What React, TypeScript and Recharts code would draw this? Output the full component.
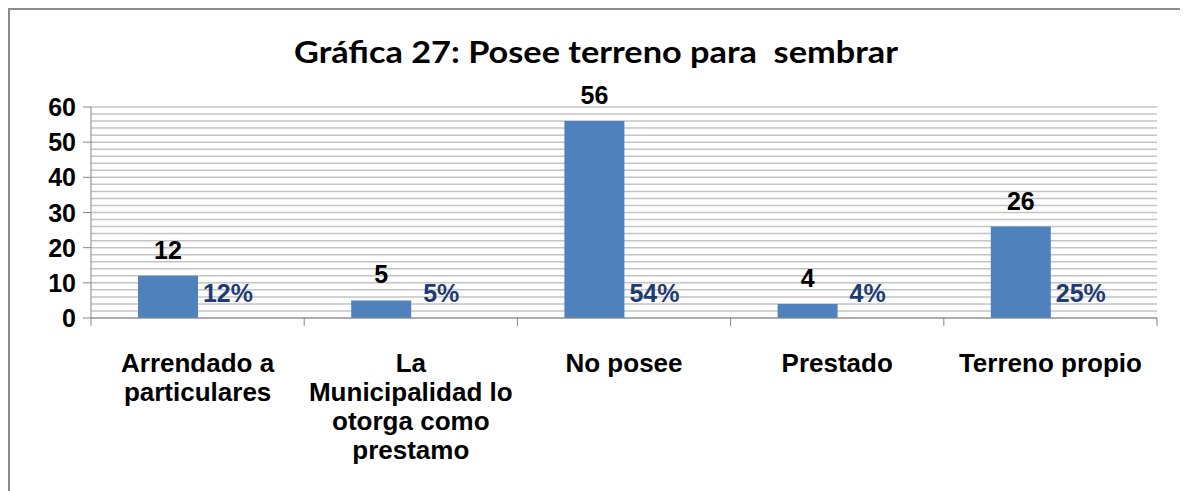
import React from "react";
import { BarChart, Bar, XAxis, YAxis, CartesianGrid, LabelList } from "recharts";

// Gráfica 27: Posee terreno para sembrar
const CATEGORIES = [
  "Arrendado a particulares",
  "La Municipalidad lo otorga como prestamo",
  "No posee",
  "Prestado",
  "Terreno propio",
];
// saltos de línea tal como aparecen en el eje
const CATEGORY_LINES = [
  ["Arrendado a", "particulares"],
  ["La", "Municipalidad lo", "otorga como", "prestamo"],
  ["No posee"],
  ["Prestado"],
  ["Terreno propio"],
];
const CANTIDAD = [12, 5, 56, 4, 26];
const PORCENTAJE = [0.12, 0.05, 0.54, 0.04, 0.25];
const Y_LABELS = [0, 10, 20, 30, 40, 50, 60];
const GRID_TICKS = [0, 2, 4, 6, 8, 10, 12, 14, 16, 18, 20, 22, 24, 26, 28, 30, 32, 34, 36, 38, 40, 42, 44, 46, 48, 50, 52, 54, 56, 58, 60];

const data = CATEGORIES.map((name, i) => ({
  name,
  lines: CATEGORY_LINES[i],
  cantidad: CANTIDAD[i],
  porcentaje: PORCENTAJE[i],
}));

const W = 1173;
const H = 490;
const M = { top: 97, right: 26, left: 0, bottom: 32 };
const Y_W = 81;
const X_H = 150;
const BAND = (W - M.left - M.right - Y_W) / CATEGORIES.length;

const FONT = "'Liberation Sans', Arial, sans-serif";
const AXIS = "#868686";

function ValueTick(props: any) {
  const { x, y, payload } = props;
  if (!Y_LABELS.includes(payload.value)) return null;
  return (
    <g>
      <line x1={x - 8} y1={y} x2={x} y2={y} stroke={AXIS} />
      <text x={x - 15} y={y} dy={9} textAnchor="end"
        fontFamily={FONT} fontWeight="bold" fontSize={25} fill="#000">
        {payload.value}
      </text>
    </g>
  );
}

function CategoryTick(props: any) {
  const { x, y, payload, index } = props;
  const lines: string[] = data[index]?.lines ?? [payload.value];
  const left = x - BAND / 2;
  const right = x + BAND / 2;
  return (
    <g>
      <line x1={left} y1={y} x2={left} y2={y + 8} stroke={AXIS} />
      {index === CATEGORIES.length - 1 && (
        <line x1={right} y1={y} x2={right} y2={y + 8} stroke={AXIS} />
      )}
      {lines.map((l, i) => (
        <text key={i} x={x} y={y + 54 + i * 29} textAnchor="middle"
          fontFamily={FONT} fontWeight="bold" fontSize={26} fill="#000">
          {l}
        </text>
      ))}
    </g>
  );
}

function PctLabel(props: any) {
  const { x, y, width, height, value } = props;
  return (
    <text x={x + width / 2} y={y + height - 16} textAnchor="middle"
      fontFamily={FONT} fontWeight="bold" fontSize={25} fill="#1F3B73">
      {Math.round(value * 100) + "%"}
    </text>
  );
}

export default function App() {
  return (
    <div style={{
      position: "relative", width: 1177, height: 500, boxSizing: "border-box",
      borderTop: "2px solid #8c8c8c", borderLeft: "2px solid #8c8c8c", borderRight: "2px solid #8c8c8c",
      background: "#fff",
    }}>
      <svg width={W} height={80} style={{ position: "absolute", left: 0, top: 0 }}>
        <text x={586} y={53} textAnchor="middle" fontFamily="Lato, 'Open Sans', sans-serif"
          fontWeight="bold" fontSize={31} fill="#000" textLength={604} lengthAdjust="spacingAndGlyphs"
          style={{ whiteSpace: "pre" }}>
          {"Gráfica 27: Posee terreno para\u00a0 sembrar"}
        </text>
      </svg>
      <BarChart width={W} height={H} data={data} margin={M} barGap={0}>
        <CartesianGrid vertical={false} stroke="#c4c4c4" strokeWidth={1.5} />
        <YAxis domain={[0, 60]} ticks={GRID_TICKS} width={Y_W} interval={0}
          axisLine={{ stroke: AXIS }} tickLine={false} tickSize={0} tickMargin={0}
          tick={<ValueTick />} />
        <XAxis dataKey="name" height={X_H} interval={0} tickLine={false} tickSize={0} tickMargin={0}
          axisLine={{ stroke: AXIS }} tick={<CategoryTick />} />
        <Bar dataKey="cantidad" fill="#4F81BD" barSize={60} isAnimationActive={false}>
          <LabelList dataKey="cantidad" position="top" offset={17}
            style={{ fontFamily: FONT, fontWeight: "bold", fontSize: 25, fill: "#000" }} />
        </Bar>
        <Bar dataKey="porcentaje" fill="transparent" barSize={60} isAnimationActive={false}>
          <LabelList dataKey="porcentaje" content={<PctLabel />} />
        </Bar>
      </BarChart>
    </div>
  );
}
